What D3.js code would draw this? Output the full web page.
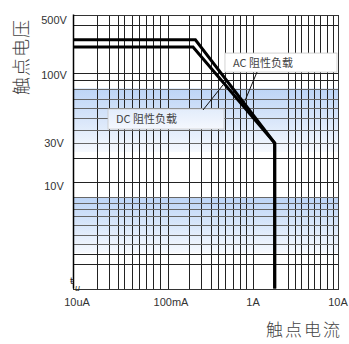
<!DOCTYPE html>
<html>
<head>
<meta charset="utf-8">
<script src="https://cdn.jsdelivr.net/npm/d3@7"></script>
<style>
  body { margin: 0; background: #fff; }
  svg { display: block; }
  .tick { font-family: "Liberation Sans", Arial, sans-serif; font-size: 11px; fill: #333; }
  .cjk { font-family: "Noto Sans CJK SC", sans-serif; }
</style>
</head>
<body>
<div id="chart"></div>
<script>
// axis ticks (current in A, voltage in V)
const xTickValues = [1e-5, 0.1, 1, 10];
const xTickLabels = ["10uA", "100mA", "1A", "10A"];
const yTickValues = [500, 100, 30, 10];
const yTickLabels = ["500V", "100V", "30V", "10V"];

// grid lines (hand drawn, not a clean log grid)
const xGrid = [1.0e-4, 3.3e-4, 7.9e-4, 1.4e-3, 3.0e-3, 6.0e-3, 0.012, 0.023, 0.046, 0.1,
  0.177, 0.245, 0.32, 0.387, 0.474, 0.574, 0.694, 0.837, 1,
  2.58, 3.08, 3.67, 4.38, 5.22, 6.14, 7.33, 8.73];
const yGrid = [432, 106, 91.5, 78.7, 65.3, 55.8, 47.1, 37.8, 30, 20.4, 11.2,
  7.8, 6.83, 5.97, 5.1, 4.12, 3.29, 2.72, 2.17, 1.73];

// shaded voltage bands [top V, bottom V]
const bands = [[78.7, 23.8], [7.8, 2.22]];

// load limit curves: [current A, voltage V]
const acCurve = [[1e-5, 280], [0.21, 280], [1.8, 30], [1.8, 1]];
const dcCurve = [[1e-5, 227], [0.197, 227], [1.8, 30], [1.8, 1]];

// callouts: box corners and leader line, in data units
const callouts = [
  { text: "AC 阻性负载", box: [0.468, 190, 9.73, 109], leader: [[1.115, 109], [0.784, 60.9]], fill: "#fff" },
  { text: "DC 阻性负载", box: [2.98e-4, 54.8, 0.456, 38.4], leader: [[0.258, 53.8], [0.4436, 83.8]], fill: "url(#boxGrad)" }
];

const width = 349, height = 344;
const plot = { left: 73, right: 338, top: 14.5, bottom: 288.5 };

const svg = d3.select("#chart").append("svg")
    .attr("width", width)
    .attr("height", height);

const x = d3.scaleLog()
    .domain([1e-5, 0.1, 1, 10])
    .range([73, 168, 253, 338]);
const y = d3.scaleLog()
    .domain([500, 100, 30, 10, 1])
    .range([20, 75, 143, 186, 288.5]);

const defs = svg.append("defs");
const bandGrad = defs.append("linearGradient")
    .attr("id", "bandGrad").attr("x1", 0).attr("y1", 0).attr("x2", 0).attr("y2", 1);
bandGrad.append("stop").attr("offset", "0%").attr("stop-color", "#bcd4f6");
bandGrad.append("stop").attr("offset", "100%").attr("stop-color", "#f6f9fe");
const boxGrad = defs.append("linearGradient")
    .attr("id", "boxGrad").attr("x1", 0).attr("y1", 0).attr("x2", 0).attr("y2", 1);
boxGrad.append("stop").attr("offset", "0%").attr("stop-color", "#e2ecfb");
boxGrad.append("stop").attr("offset", "100%").attr("stop-color", "#f5f8fe");

// bands
svg.append("g").selectAll("rect")
    .data(bands)
    .join("rect")
    .attr("x", plot.left)
    .attr("width", plot.right - plot.left)
    .attr("y", d => y(d[0]))
    .attr("height", d => y(d[1]) - y(d[0]))
    .attr("fill", "url(#bandGrad)");

const inBand = v => bands.some(b => v <= b[0] + 0.01 && v > b[1]);

// grid
const grid = svg.append("g").attr("shape-rendering", "crispEdges");
grid.selectAll("line.v")
    .data(xGrid)
    .join("line")
    .attr("class", "v")
    .attr("x1", d => Math.round(x(d)) + 0.5)
    .attr("x2", d => Math.round(x(d)) + 0.5)
    .attr("y1", plot.top)
    .attr("y2", plot.bottom)
    .attr("stroke", "#222");
grid.selectAll("line.h")
    .data(yGrid)
    .join("line")
    .attr("class", "h")
    .attr("x1", plot.left)
    .attr("x2", plot.right)
    .attr("y1", d => Math.round(y(d)) + 0.5)
    .attr("y2", d => Math.round(y(d)) + 0.5)
    .attr("stroke", d => inBand(d) ? "#666" : "#222");

// frame
svg.append("rect")
    .attr("x", plot.left + 0.5)
    .attr("y", plot.top + 0.5)
    .attr("width", plot.right - plot.left)
    .attr("height", plot.bottom - plot.top)
    .attr("fill", "none")
    .attr("stroke", "#333")
    .attr("shape-rendering", "crispEdges");
svg.append("line")
    .attr("x1", plot.left + 0.5).attr("x2", plot.left + 0.5)
    .attr("y1", plot.top).attr("y2", plot.bottom)
    .attr("stroke", "#000").attr("stroke-width", 1.5);

// curves
const line = d3.line().x(d => x(d[0])).y(d => y(d[1]));
svg.append("g").selectAll("path")
    .data([acCurve, dcCurve])
    .join("path")
    .attr("d", line)
    .attr("fill", "none")
    .attr("stroke", "#000")
    .attr("stroke-width", 3);

// callouts
const co = svg.append("g").selectAll("g")
    .data(callouts)
    .join("g");
co.append("rect")
    .attr("x", d => x(d.box[0]))
    .attr("y", d => y(d.box[1]))
    .attr("width", d => x(d.box[2]) - x(d.box[0]))
    .attr("height", d => y(d.box[3]) - y(d.box[1]))
    .attr("fill", d => d.fill)
    .attr("stroke", "#c8c8c8")
    .attr("stroke-width", 0.8);
co.append("line")
    .attr("x1", d => x(d.leader[0][0]))
    .attr("y1", d => y(d.leader[0][1]))
    .attr("x2", d => x(d.leader[1][0]))
    .attr("y2", d => y(d.leader[1][1]))
    .attr("stroke", "#111")
    .attr("stroke-width", 1);
co.append("text")
    .attr("class", "cjk")
    .attr("x", d => x(d.box[0]) + 8)
    .attr("y", d => (y(d.box[1]) + y(d.box[3])) / 2)
    .attr("dy", "0.36em")
    .attr("font-size", 11)
    .attr("fill", "#444")
    .text(d => d.text);

// tick labels
svg.append("g").selectAll("text")
    .data(xTickValues)
    .join("text")
    .attr("class", "tick")
    .attr("x", (d, i) => x(d) + (i === 0 ? 4 : i === 1 ? 3 : 0))
    .attr("y", 306)
    .attr("text-anchor", "middle")
    .text((d, i) => xTickLabels[i]);
svg.append("g").selectAll("text")
    .data(yTickValues)
    .join("text")
    .attr("class", "tick")
    .attr("x", 54)
    .attr("y", d => y(d))
    .attr("dy", "0.35em")
    .attr("text-anchor", "middle")
    .text((d, i) => yTickLabels[i]);

// odd glyph at the origin
svg.append("text")
    .attr("x", 70).attr("y", 284)
    .attr("font-family", "DejaVu Sans")
    .attr("font-size", 9).attr("fill", "#222")
    .text("ŧ");
svg.append("text")
    .attr("x", 75).attr("y", 291)
    .attr("font-family", "DejaVu Sans")
    .attr("font-style", "italic")
    .attr("font-size", 8).attr("fill", "#222")
    .text("u");

// axis titles
svg.append("text")
    .attr("class", "cjk")
    .attr("transform", "translate(22,57) rotate(-90)")
    .attr("text-anchor", "middle")
    .attr("dy", "0.35em")
    .attr("font-size", 18)
    .attr("font-weight", 300)
    .attr("letter-spacing", 1)
    .attr("fill", "#444")
    .text("触点电压");
svg.append("text")
    .attr("class", "cjk")
    .attr("x", 304)
    .attr("y", 336)
    .attr("text-anchor", "middle")
    .attr("font-size", 17)
    .attr("font-weight", 300)
    .attr("letter-spacing", 2)
    .attr("fill", "#444")
    .text("触点电流");
</script>
</body>
</html>
